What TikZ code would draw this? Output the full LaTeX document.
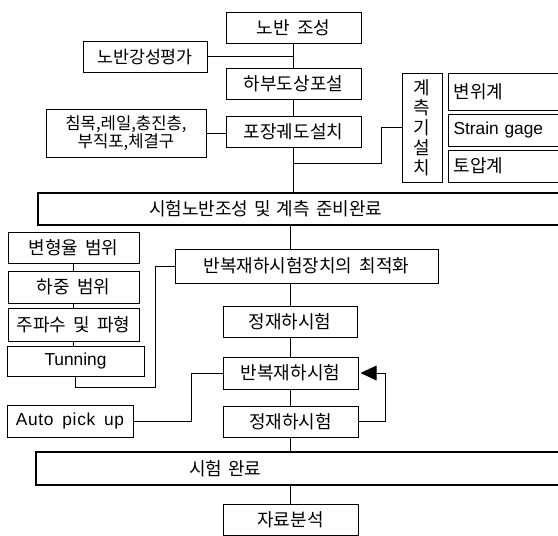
\documentclass[tikz,border=0pt]{standalone}
\usepackage{fontspec}
\setmainfont{Noto Sans CJK KR}[WordSpace=1.8]
\newfontfamily\latin[WordSpace=1.4]{Liberation Sans}
\newfontfamily\latinwide[LetterSpace=4,WordSpace=1.6]{Liberation Sans}
\usetikzlibrary{arrows.meta}
\begin{document}
\begin{tikzpicture}[x=0.75pt,y=-0.75pt,
  box/.style={draw, line width=0.75pt, inner sep=0pt, font=\fontsize{13.5}{15}\selectfont},
  tbox/.style={draw, line width=1.6pt, inner sep=0pt, font=\fontsize{13.5}{15}\selectfont},
  sz/.style 2 args={minimum width=#1*0.75pt, minimum height=#2*0.75pt},
  conn/.style={line width=0.75pt},
  lbox/.style={box, anchor=west, align=left, inner xsep=5*0.75pt, text width=107*0.75pt},
  lat/.style={font=\fontsize{13}{15}\selectfont}
]
\useasboundingbox (0,0) rectangle (558,536);
\clip (0,0) rectangle (558,536);
\fill[white] (0,0) rectangle (558,536);

% upper column
\node[box, sz={135}{31}] (nb) at (293.5,27.5) {노반 조성};
\node[box, sz={124}{31}, font=\fontsize{13}{15}\selectfont] (ev) at (145,56.5) {노반강성평가};
\node[box, sz={135}{31}] (hb) at (293.5,83.5) {하부도상포설};
\node[box, sz={135}{31}] (pj) at (293.5,131.5) {포장궤도설치};
\node[box, sz={160}{48}, align=center, font=\fontsize{12.5}{13.5}\selectfont] (sl) at (126,133) {침목,레일,충진층,\\부직포,체결구};
\node[box, sz={40}{109}, align=center, font=\fontsize{13.5}{15}\selectfont] (gs) at (422,127.5) {계\\측\\기\\설\\치};
\node[lbox, minimum height=37*0.75pt] (m1) at (448,91.5) {변위계};
\node[lbox, minimum height=32*0.75pt, lat] (m2) at (448,130) {\latin Strain gage};
\node[lbox, minimum height=32*0.75pt] (m3) at (448,166) {토압계};

\node[tbox, anchor=west, align=left, text width=306*0.75pt, inner xsep=111*0.75pt, minimum height=32*0.75pt] (t1) at (37,209) {시험노반조성 및 계측 준비완료};

% left column
\node[box, sz={131}{31}] (l1) at (73.5,247.5) {변형율 범위};
\node[box, sz={131}{32}] (l2) at (73.5,287) {하중 범위};
\node[box, sz={131}{33}] (l3) at (73.5,324.5) {주파수 및 파형};
\node[box, sz={137}{30}, lat] (l4) at (75.5,361) {\latin Tunning};
\node[box, sz={126}{32}, lat] (ap) at (70,421) {\latinwide Auto pick up};

% lower column
\node[box, sz={263}{34}] (opt) at (306.5,266) {반복재하시험장치의 최적화};
\node[box, sz={134}{31}] (st1) at (290,321.5) {정재하시험};
\node[box, sz={135}{32}] (rep) at (290.5,373) {반복재하시험};
\node[box, sz={135}{31}] (st2) at (290.5,421.5) {정재하시험};

\node[tbox, anchor=west, align=left, text width=224*0.75pt, inner xsep=153*0.75pt, minimum height=33*0.75pt] (t2) at (35,468.5) {시험 완료};
\node[box, sz={135}{31}] (da) at (290.5,519.5) {자료분석};

% connectors upper
\draw[conn] (nb.south) -- (hb.north);
\draw[conn] (hb.south) -- (pj.north);
\draw[conn] (pj.south) -- (pj.south |- t1.north);
\draw[conn] (ev.east) -- (ev.east -| nb.south);
\draw[conn] (sl.east) -- (sl.east -| pj.west);
\coordinate (j1) at (293.5,163);
\draw[conn] (j1) -| ([xshift=-15pt]gs.west) -- (gs.west);

% connectors left
\draw[conn] (l1.south) -- (l1.south |- l2.north);
\draw[conn] (l2.south) -- (l2.south |- l3.north);
\draw[conn] (l3.south) -- (l3.south |- l4.north);
\draw[conn] (l4.south) -- ++(0,11) -| ([xshift=-19*0.75pt]opt.west) -- (opt.west);
\draw[conn] (ap.east) -| ([xshift=-31*0.75pt]rep.west) -- (rep.west);

% connectors lower
\draw[conn] (st1.north |- t1.south) -- (st1.north |- opt.north);
\draw[conn] (st1.north |- opt.south) -- (st1.north);
\draw[conn] (st1.south) -- (st1.south |- rep.north);
\draw[conn] (rep.south) -- (rep.south |- st2.north);
\draw[conn] (st2.south) -- (st2.south |- t2.north);
\draw[conn] (da.north |- t2.south) -- (da.north);
\draw[conn, -{Triangle[length=12pt,width=11pt]}, shorten >=1.5pt] (st2.east) -- ++(27,0) |- (rep.east);
\end{tikzpicture}
\end{document}
